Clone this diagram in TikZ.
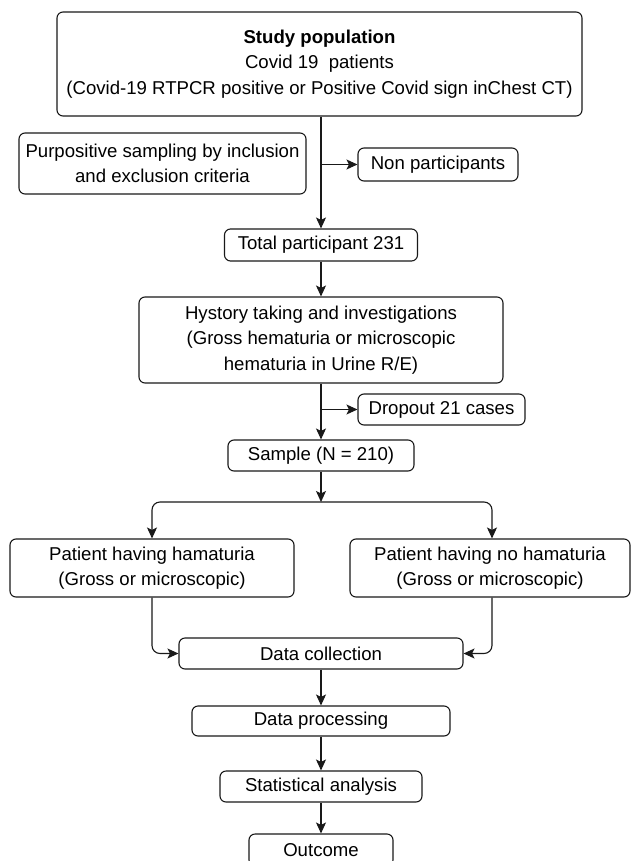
\documentclass[tikz,border=0pt]{standalone}
\usepackage{fontspec}
\setmainfont{Liberation Sans}
\usetikzlibrary{arrows.meta}
\begin{document}
\begin{tikzpicture}[x=1pt,y=-1pt,
  box/.style={draw=black!90, line width=1.1pt, rounded corners=6pt, inner sep=0pt, align=center,
    font=\fontsize{18.6}{25.5}\selectfont},
  arr/.style={draw=black!90, line width=1.1pt, -{Stealth[length=11pt,width=10pt,inset=2.5pt]}},
  ln/.style={draw=black!90, line width=1.1pt}]
\useasboundingbox (0,0) rectangle (631,861);
\node[box, minimum width=525pt, minimum height=104pt] (top) at (319.5,64)
  {\textbf{Study population}\\Covid 19\ \ patients\\(Covid-19 RTPCR positive or Positive Covid sign inChest CT)};
\node[box, minimum width=287pt, minimum height=61pt] (purp) at (162.5,163.5)
  {Purpositive sampling by inclusion\\and exclusion criteria};
\node[box, minimum width=160pt, minimum height=33pt] (non) at (438,164.5) {Non participants};
\node[box, minimum width=193pt, minimum height=32pt] (total) at (321,245) {Total participant 231};
\node[box, minimum width=364pt, minimum height=86pt] (hyst) at (321,340)
  {Hystory taking and investigations\\(Gross hematuria or microscopic\\hematuria in Urine R/E)};
\node[box, minimum width=167pt, minimum height=31pt] (drop) at (441.5,409.5) {Dropout 21 cases};
\node[box, minimum width=186pt, minimum height=31pt] (sample) at (321,455.5) {Sample (N = 210)};
\coordinate (split) at (321,502);
\node[box, minimum width=284pt, minimum height=58pt] (left) at (152,568)
  {Patient having hamaturia\\(Gross or microscopic)};
\node[box, minimum width=280pt, minimum height=58pt] (right) at (490,568)
  {Patient having no hamaturia\\(Gross or microscopic)};
\node[box, minimum width=284pt, minimum height=31pt] (dc) at (321,653.5) {Data collection};
\node[box, minimum width=258pt, minimum height=30pt] (dp) at (321,721) {Data processing};
\node[box, minimum width=202pt, minimum height=31pt] (sa) at (321,786.5) {Statistical analysis};
\node[box, minimum width=144pt, minimum height=32pt] (out) at (321,850) {Outcome};

\draw[arr] (top.south -| total.north) -- (total.north);
\draw[arr] (total.north |- non.west) -- (non.west);
\draw[arr] (total.south) -- (hyst.north);
\draw[arr] (sample.north |- drop.west) -- (drop.west);
\draw[arr] (hyst.south) -- (sample.north);
\draw[arr] (sample.south) -- (split);
\draw[arr, rounded corners=8pt] (split) -| (left.north);
\draw[arr, rounded corners=8pt] (split) -| ([xshift=2pt]right.north);
\draw[arr, rounded corners=8pt] (left.south) |- (dc.west);
\draw[arr, rounded corners=8pt] ([xshift=2pt]right.south) |- (dc.east);
\draw[arr] (dc.south) -- (dp.north);
\draw[arr] (dp.south) -- (sa.north);
\draw[arr] (sa.south) -- (out.north);
\end{tikzpicture}
\end{document}
